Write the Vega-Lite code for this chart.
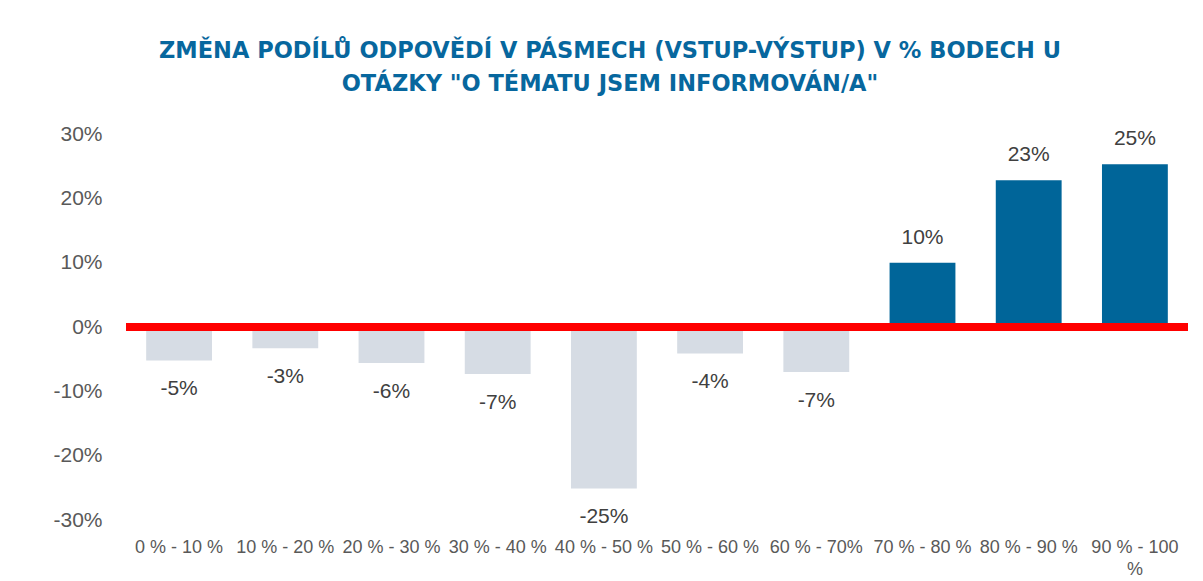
{
  "$schema": "https://vega.github.io/schema/vega-lite/v6.json",
  "width": 1062,
  "height": 386,
  "autosize": {"type": "none"},
  "padding": {"left": 126, "top": 134, "right": 15, "bottom": 61},
  "background": "#FFFFFF",
  "title": {
    "text": ["ZMĚNA PODÍLŮ ODPOVĚDÍ V PÁSMECH (VSTUP-VÝSTUP) V % BODECH U", "OTÁZKY \"O TÉMATU JSEM INFORMOVÁN/A\""],
    "anchor": "middle",
    "frame": "group",
    "dx": -47,
    "offset": 28,
    "font": "DejaVu Sans",
    "fontSize": 22.5,
    "fontWeight": "bold",
    "color": "#07679E",
    "lineHeight": 33
  },
  "data": {
    "values": [
      {"pasmo": "0 % - 10 %", "v": -5.2},
      {"pasmo": "10 % - 20 %", "v": -3.3},
      {"pasmo": "20 % - 30 %", "v": -5.6},
      {"pasmo": "30 % - 40 %", "v": -7.3},
      {"pasmo": "40 % - 50 %", "v": -25.1},
      {"pasmo": "50 % - 60 %", "v": -4.1},
      {"pasmo": "60 % - 70%", "v": -7.0},
      {"pasmo": "70 % - 80 %", "v": 10.0},
      {"pasmo": "80 % - 90 %", "v": 22.8},
      {"pasmo": "90 % - 100 %", "v": 25.3}
    ]
  },
  "transform": [
    {"calculate": "(datum.v < 0 ? '-' : '') + round(abs(datum.v)) + '%'", "as": "lbl"}
  ],
  "encoding": {
    "x": {
      "field": "pasmo",
      "type": "nominal",
      "sort": null,
      "title": null,
      "scale": {"paddingInner": 0.38, "paddingOuter": 0.19},
      "axis": {
        "domain": false,
        "ticks": false,
        "labelAngle": 0,
        "labelFont": "Liberation Sans",
        "labelFontSize": 18,
        "labelColor": "#595959",
        "labelPadding": 18,
        "labelLineHeight": 22,
        "labelOverlap": false,
        "labelLimit": 200,
        "labelExpr": "datum.value == '90 % - 100 %' ? ['90 % - 100', '%'] : datum.value"
      }
    },
    "y": {
      "field": "v",
      "type": "quantitative",
      "title": null,
      "scale": {"domain": [-30, 30], "nice": false, "zero": false},
      "axis": {
        "values": [-30, -20, -10, 0, 10, 20, 30],
        "domain": false,
        "ticks": false,
        "grid": false,
        "labelFont": "Liberation Sans",
        "labelFontSize": 21,
        "labelColor": "#595959",
        "labelPadding": 24,
        "labelExpr": "(datum.value < 0 ? '-' : '') + abs(datum.value) + '%'"
      }
    }
  },
  "layer": [
    {
      "mark": {"type": "bar"},
      "encoding": {
        "y2": {"datum": 0},
        "color": {
          "condition": {"test": "datum.v > 0", "value": "#006599"},
          "value": "#D6DCE4"
        }
      }
    },
    {
      "mark": {"type": "rule", "color": "#FF0000", "strokeWidth": 8},
      "encoding": {
        "x": {"value": 0},
        "x2": {"value": 1062},
        "y": {"datum": 0}
      }
    },
    {
      "transform": [{"filter": "datum.v > 0"}],
      "mark": {"type": "text", "font": "Liberation Sans", "fontSize": 21, "color": "#404040", "baseline": "alphabetic", "dy": -19},
      "encoding": {"text": {"field": "lbl"}}
    },
    {
      "transform": [{"filter": "datum.v < 0"}],
      "mark": {"type": "text", "font": "Liberation Sans", "fontSize": 21, "color": "#404040", "baseline": "alphabetic", "dy": 35},
      "encoding": {"text": {"field": "lbl"}}
    }
  ],
  "config": {"view": {"stroke": null}}
}
